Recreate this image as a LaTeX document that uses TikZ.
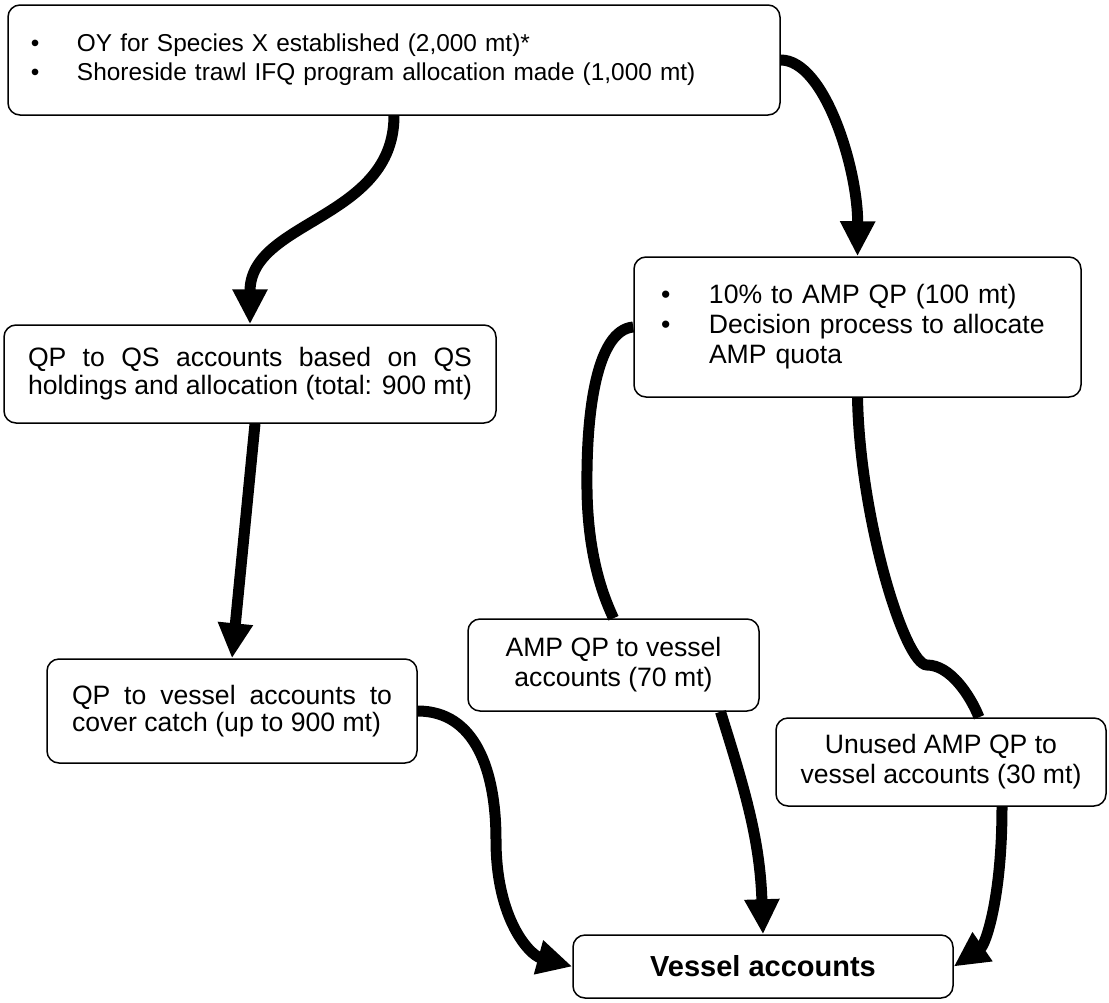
\documentclass[tikz,border=0pt]{standalone}
\usepackage{fontspec}
\setmainfont{Liberation Sans}
\usetikzlibrary{arrows.meta,calc}
\tikzset{%
  box/.style     = {shape=rectangle, rounded corners=6pt,%
                    draw, line width=0.75pt, fill=white, inner sep=0pt,%
                    font=\fontsize{13.3}{15}\selectfont},%
  listbox/.style = {box, align=left},%
  parbox/.style  = {box, align=justify},%
  textbox/.style = {box, align=center},%
  link/.style    = {line width=5.5pt},%
  flow/.style    = {link, -{Triangle[length=17.5pt,width=16.5pt]}}%
}

\begin{document}
\begin{tikzpicture}[x=0.5pt, y=-0.5pt]
                  \useasboundingbox (0,0) rectangle (1109,1002);
                  \node[listbox, minimum width=386pt, minimum height=55pt, text width=363pt,
                        font=\fontsize{12.2}{14.5}\selectfont] (oy) at (394,60)
                  {\raisebox{3pt}{\begin{tabular}{@{}p{23pt}@{}l@{}}
                     \textbullet & OY for Species X established (2,000 mt)*\\
                     \textbullet & Shoreside trawl IFQ program allocation made (1,000 mt)
                   \end{tabular}}};
                  \node[listbox, minimum width=223.5pt, minimum height=70pt, text width=196.5pt] (amp) at (857.5,327)
                  {\begin{tabular}{@{}p{24pt}@{}l@{}}
                     \textbullet & 10\% to AMP QP (100 mt)\\
                     \textbullet & Decision process to allocate\\
                                 & AMP quota
                   \end{tabular}};
                  \node[parbox, minimum width=246pt, minimum height=49pt, text width=222pt,
                        font=\fontsize{13.3}{14}\selectfont] (qs) at (250,374)
                  {QP to QS accounts based on QS\linebreak holdings and allocation (total: 900 mt)};
                  \node[parbox, minimum width=185pt, minimum height=52pt, text width=160pt,
                        font=\fontsize{13.3}{13.5}\selectfont] (qpves) at (232,711)
                  {QP to vessel accounts to\linebreak cover catch (up to 900 mt)};
                  \node[textbox, minimum width=145.5pt, minimum height=46pt] (ampves) at (613.5,665)
                  {AMP QP to vessel\\accounts (70 mt)};
                  \node[textbox, minimum width=165pt, minimum height=44pt] (unused) at (941,762)
                  {Unused AMP QP to\\vessel accounts (30 mt)};
                  \node[textbox, minimum width=190pt, minimum height=31.5pt,
                        font=\fontsize{14.5}{17}\selectfont\bfseries] (vessel) at (763,966.5)
                  {Vessel accounts};
                  \coordinate (bend) at (927,665);
                  \draw[flow] (oy.south) .. controls (394,220) and (250,220) .. (qs.north);
                  \draw[flow] (oy.east) .. controls (825,60) and (858,170) .. (amp.north);
                  \draw[flow] ($(qs.south)+(5,0)$) -- (qpves.north);
                  \draw[link] (amp.west) .. controls (597,330) and (586,410) .. (587,490)
                              .. controls (588,560) and (605,600) .. (ampves.north);
                  \draw[flow] ($(ampves.south)+(107,0)$) .. controls (745,790) and (760,840) .. (vessel.north);
                  \draw[link] (amp.south) .. controls (860,520) and (905,665) .. (bend)
                              .. controls (950,665) and (970,695) .. ($(unused.north)+(38,0)$);
                  \draw[flow] ($(unused.south)+(61,0)$) .. controls (1002,900) and (985,945) .. (vessel.east);
                  \draw[flow] (qpves.east) .. controls (475,711) and (496,770) .. (496,840)
                              .. controls (496,920) and (530,955) .. (vessel.west);
\end{tikzpicture}
\end{document}
